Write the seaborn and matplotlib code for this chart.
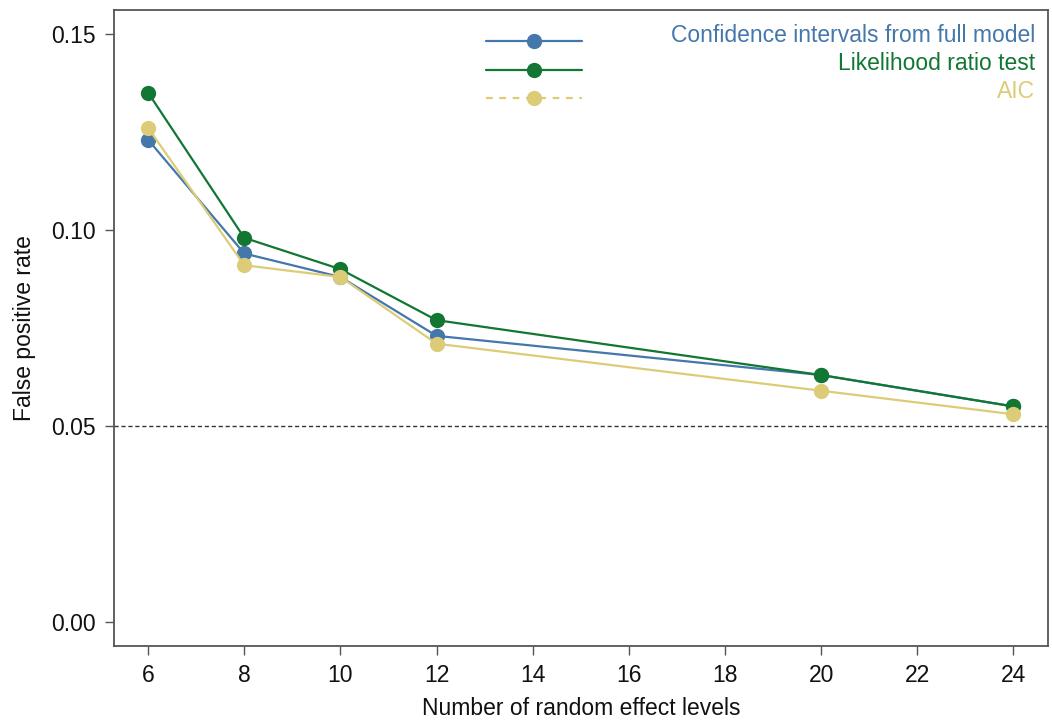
import matplotlib
matplotlib.use("Agg")
import matplotlib.pyplot as plt
import seaborn as sns
import pandas as pd
from matplotlib.lines import Line2D

levels = [6, 8, 10, 12, 20, 24]
ci_full = [0.123, 0.094, 0.088, 0.073, 0.063, 0.055]
lrt = [0.135, 0.098, 0.090, 0.077, 0.063, 0.055]
aic = [0.126, 0.091, 0.088, 0.071, 0.059, 0.053]
methods = ["Confidence intervals from full model", "Likelihood ratio test", "AIC"]
colors = ["#4477AA", "#117733", "#DDCC77"]
xticks = [6, 8, 10, 12, 14, 16, 18, 20, 22, 24]
yticks = [0.00, 0.05, 0.10, 0.15]

sns.set_style("white")
plt.rcParams["font.family"] = ["Liberation Sans", "DejaVu Sans"]

df = pd.DataFrame({
    "levels": levels * 3,
    "rate": ci_full + lrt + aic,
    "method": [methods[0]] * 6 + [methods[1]] * 6 + [methods[2]] * 6,
})

fig = plt.figure(figsize=(10.52, 7.21), dpi=100)
ax = fig.add_axes([114 / 1052, 1 - 646 / 721, (1048 - 114) / 1052, (646 - 10) / 721])

ax.axhline(0.05, color="#333333", lw=1.0, ls=(0, (3, 2)), zorder=1)

MS = 11
for m, c in zip(methods, colors):
    sub = df[df["method"] == m]
    sns.lineplot(data=sub, x="levels", y="rate", ax=ax, color=c, lw=1.6,
                 marker="o", markersize=MS, markeredgewidth=0, legend=False, zorder=3)

FS = 16.5
ax.set_xlim(5.29, 24.72)
ax.set_ylim(-0.0061, 0.1561)
ax.set_xticks(xticks)
ax.set_xticklabels([str(v) for v in xticks])
ax.set_yticks(yticks)
ax.set_yticklabels([f"{v:.2f}" for v in yticks])
ax.tick_params(axis="both", labelsize=FS, length=6.5, width=1.0, color="#555555",
               direction="out", bottom=True, left=True, pad=6.5, labelcolor="#111111")
for s in ax.spines.values():
    s.set_color("#555555")
    s.set_linewidth(1.3)
ax.set_xlabel("Number of random effect levels", fontsize=FS, labelpad=7, color="#111111")
ax.set_ylabel("False positive rate", fontsize=FS, labelpad=11, color="#111111")

# legend: handles only, labels drawn right-aligned
handles = [
    Line2D([], [], color=colors[0], lw=1.6, marker="o", markersize=MS, markeredgewidth=0),
    Line2D([], [], color=colors[1], lw=1.6, marker="o", markersize=MS, markeredgewidth=0),
    Line2D([], [], color=colors[2], lw=1.6, ls=(0, (3, 3)), marker="o", markersize=MS, markeredgewidth=0),
]
leg = ax.legend(handles=handles, labels=["", "", ""], loc="upper left",
                bbox_to_anchor=((485 - 114) / 934 + 0.001, 0.9636),
                frameon=False, handlelength=96 / 16 / 1.389, fontsize=16,
                labelspacing=0.336, handletextpad=0, borderpad=0,
                borderaxespad=0)
rows_y = [36, 64, 92]
for m, c, yy in zip(methods, colors, rows_y):
    ax.text(1035 / 1052, 1 - yy / 721, m, transform=fig.transFigure, ha="right",
            va="center", fontsize=FS, color=c)

fig.savefig("out.png", dpi=100)
